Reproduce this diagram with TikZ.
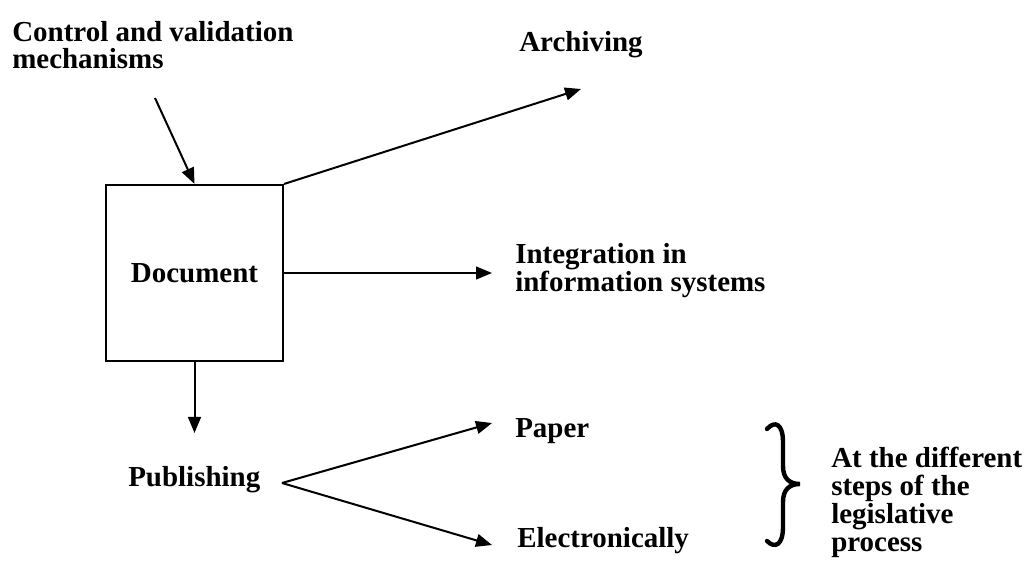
\documentclass[tikz,border=0pt]{standalone}
\usepackage{fontspec}
\setmainfont{Liberation Serif}
\usetikzlibrary{arrows.meta}
\tikzset{
  lbl/.style={font=\bfseries\fontsize{20.6pt}{19.9pt}\selectfont,inner sep=0pt,align=left},
  arr/.style={-{Triangle[length=0.4cm,width=0.32cm]},line width=0.05cm},
}
\begin{document}
\begin{tikzpicture}[x=0.025cm,y=-0.025cm]
		\useasboundingbox (0,0) rectangle (1026,564);
		%\draw [help lines,step=50] (0,0) grid (1026,564);
		\node [draw,line width=0.05cm,minimum width=4.425cm,minimum height=4.4cm,lbl,align=center] (doc) at (194.5,273) {Document};
		%multi-line labels sit on the baseline of their last line
		\node [lbl,anchor=base west] (ctrl) at (12,69) {Control and validation\\mechanisms};
		\node [lbl,anchor=base west] (archiving) at (519,52) {Archiving};
		\node [lbl,anchor=base west] (integ) at (515,291) {Integration in\\information systems};
		\node [lbl,anchor=base west] (publ) at (128,486) {Publishing};
		\node [lbl,anchor=base west] (paper) at (515,437) {Paper};
		\node [lbl,anchor=base west] (elec) at (517,547) {Electronically};
		\node [lbl,anchor=base west] (steps) at (831,551) {At the different\\steps of the\\legislative\\process};
		%free ends of the arrows
		\coordinate (ctrlfoot) at (155,98);
		\coordinate (archtip) at (581,89);
		\coordinate (integtip) at (492,273);
		\coordinate (publtop) at (194.5,433);
		\coordinate (fork) at (282,483);
		\coordinate (papertip) at (492,423);
		\coordinate (electip) at (492,545);
		\draw [arr] (ctrlfoot) -- (doc.north);
		\draw [arr] (doc.north east) -- (archtip);
		\draw [arr] (doc.east) -- (integtip);
		\draw [arr] (doc.south) -- (publtop);
		\draw [arr] (fork) -- (papertip);
		\draw [arr] (fork) -- (electip);
		%the brace
		\draw [line width=0.11cm,line cap=round] (767,429) .. controls (775,420) and (783,424) .. (783,442) -- (783,466)
			.. controls (783,478) and (789,484) .. (800,484) .. controls (789,484) and (783,490) .. (783,502)
			-- (783,527) .. controls (783,545) and (775,549) .. (767,541);
\end{tikzpicture}
\end{document}
